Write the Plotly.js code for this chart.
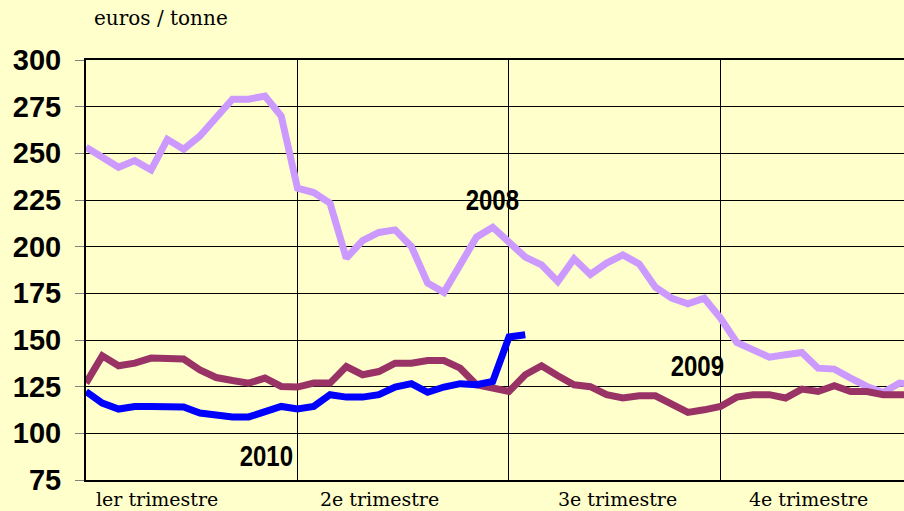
<!DOCTYPE html>
<html>
<head>
<meta charset="utf-8">
<script src="https://cdn.plot.ly/plotly-3.0.1.min.js"></script>
<style>
  html, body { margin: 0; padding: 0; background: #FFFFCC; }
  #chart { width: 904px; height: 511px; }
</style>
</head>
<body>
<div id="chart"></div>
<script>
// Weekly prices, euros / tonne (week index 0..51)
const prices2008 = [253.3, 248.2, 242.5, 246.1, 241.1, 257.5, 252.2, 259.3, 269.7, 279.0,
  279.0, 280.7, 270.0, 231.3, 229.0, 223.3, 193.8, 203.3, 207.6, 209.0,
  200.1, 180.5, 175.5, 191.2, 205.1, 210.4, 202.7, 194.4, 190.3, 181.3,
  193.5, 185.1, 191.2, 195.6, 190.8, 178.3, 172.4, 169.4, 172.4, 161.7,
  148.7, 144.4, 140.8, 142.1, 143.3, 134.9, 134.4, 129.6, 125.1, 121.9,
  126.9, 126.0];
const prices2009 = [126.9, 141.5, 136.2, 137.6, 140.3, 140.3, 139.8, 134.0, 129.9, 128.3,
  126.9, 129.6, 125.1, 124.8, 126.9, 126.9, 135.8, 131.4, 133.1, 137.6,
  137.6, 139.0, 139.0, 134.9, 126.0, 124.3, 122.4, 131.4, 136.2, 130.8,
  126.0, 125.0, 120.7, 118.9, 120.1, 120.1, 115.8, 111.2, 112.6, 114.4,
  119.4, 120.7, 120.7, 118.9, 123.7, 122.4, 125.5, 122.4, 122.4, 120.7,
  120.7, 120.7];
const prices2010 = [122.4, 116.2, 113.0, 114.4, 114.4, 114.4, 114.1, 110.9, 109.8, 108.8,
  108.8, 111.8, 114.4, 113.0, 114.4, 120.7, 119.4, 119.4, 120.7, 124.8,
  126.6, 122.0, 124.8, 126.6, 126.0, 127.8, 151.6, 152.8];
const seriesNames = ["2008", "2009", "2010"];
const quarterLabels = ["ler trimestre", "2e trimestre", "3e trimestre", "4e trimestre"];
const quarterBounds = [13, 26, 39];
const yTicks = [75, 100, 125, 150, 175, 200, 225, 250, 275, 300];
const unitLabel = "euros / tonne";

const weeks = n => Array.from({length: n}, (_, i) => i);

const colors = ["#CC99FF", "#993366", "#0000FF"];
const allSeries = [prices2008, prices2009, prices2010];

const traces = allSeries.map((ys, k) => ({
  x: weeks(ys.length),
  y: ys,
  type: "scatter",
  mode: "lines",
  name: seriesNames[k],
  line: { color: colors[k], width: 7, shape: "linear" },
  hoverinfo: "skip"
}));

// positions for labels (layout only)
const yearLabelPos = [[25.0, 225.5], [37.6, 136.5], [11.1, 88.0]];
const quarterLabelX = [4.39, 18.07, 32.64, 44.41];

const annotations = [];
seriesNames.forEach((s, k) => {
  annotations.push({
    x: yearLabelPos[k][0], y: yearLabelPos[k][1], xref: "x", yref: "y",
    text: s, showarrow: false,
    font: { family: "Liberation Sans", size: 30, weight: 700, color: "#000" }
  });
});
quarterLabels.forEach((q, i) => {
  annotations.push({
    x: quarterLabelX[i], y: 499, xref: "x", yref: "paper", yanchor: "middle",
    text: q, showarrow: false,
    font: { family: "DejaVu Serif", size: 19, color: "#000" }
  });
});
annotations.push({
  x: 161, y: 18, xref: "paper", yref: "paper", xanchor: "center", yanchor: "middle",
  text: unitLabel, showarrow: false,
  font: { family: "DejaVu Serif", size: 20, color: "#000" }
});

// convert pixel-based paper coords for annotations to paper fractions
const W = 904, H = 511, mL = 86, mR = 0, mT = 60, mB = 31;
const pw = W - mL - mR, ph = H - mT - mB;
annotations.forEach(a => {
  if (a.yref === "paper" && a.xref === "x") { a.y = (H - mB - a.y) / ph; }
  else if (a.xref === "paper" && a.yref === "paper") {
    a.x = (a.x - mL) / pw; a.y = (H - mB - a.y) / ph;
  }
});

const layout = {
  width: W, height: H,
  margin: { l: mL, r: mR, t: mT, b: mB, pad: 0 },
  paper_bgcolor: "#FFFFCC",
  plot_bgcolor: "#FFFFCC",
  showlegend: false,
  font: { family: "Liberation Sans" },
  xaxis: {
    range: [0, 50.28],
    tickvals: quarterBounds,
    showticklabels: false,
    ticks: "",
    showgrid: true, gridcolor: "#000000", gridwidth: 1,
    zeroline: false,
    showline: true, linecolor: "#000000", linewidth: 2, mirror: true,
    fixedrange: true
  },
  yaxis: {
    range: [75, 300],
    tickvals: yTicks,
    ticktext: yTicks.map(String),
    ticks: "outside", ticklen: 9, tickcolor: "#808080", tickwidth: 1,
    ticklabelstandoff: 8,
    tickfont: { family: "Liberation Sans", size: 29, weight: 700, color: "#000" },
    showgrid: true, gridcolor: "#000000", gridwidth: 1,
    zeroline: false,
    showline: true, linecolor: "#000000", linewidth: 2,
    fixedrange: true
  },
  annotations: annotations
};

Plotly.newPlot("chart", traces, layout, { displayModeBar: false, staticPlot: true }).then(gd => {
  // condense the year labels horizontally (narrow bold face)
  gd.querySelectorAll("text.annotation-text").forEach(t => {
    if (seriesNames.includes(t.textContent)) {
      const bb = t.getBBox();
      const cx = bb.x + bb.width / 2;
      t.setAttribute("transform", `translate(${cx},0) scale(0.8,1) translate(${-cx},0)`);
    }
  });
});
</script>
</body>
</html>
